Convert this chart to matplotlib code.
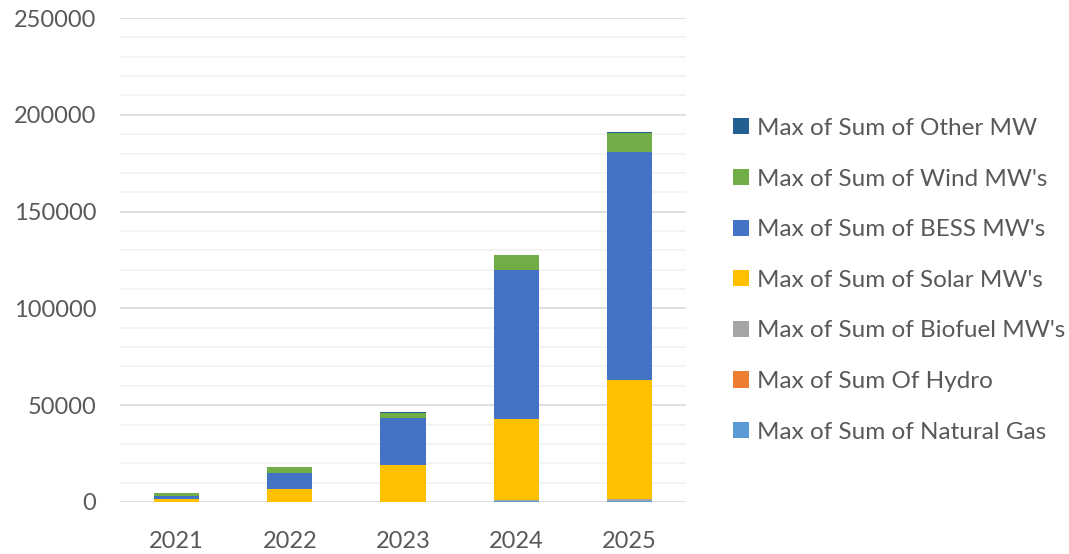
import numpy as np
import matplotlib as mpl
import matplotlib.pyplot as plt
from matplotlib.ticker import MultipleLocator

mpl.rc('font', family=['Lato', 'DejaVu Sans'])

years = ['2021', '2022', '2023', '2024', '2025']

# MW by source, stacked bottom to top
natural_gas = [0, 0, 0, 300, 500]
hydro = [0, 0, 0, 0, 0]
biofuel = [0, 0, 100, 500, 1200]
solar = [1400, 6900, 19100, 42100, 61300]
bess = [1600, 8200, 24300, 77100, 117800]
wind = [1600, 2900, 2700, 7600, 9700]
other = [100, 100, 100, 200, 800]

series = [
    ("Max of Sum of Natural Gas", natural_gas, '#5B9BD5'),
    ("Max of Sum Of Hydro", hydro, '#ED7D31'),
    ("Max of Sum of Biofuel MW's", biofuel, '#A5A5A5'),
    ("Max of Sum of Solar MW's", solar, '#FFC000'),
    ("Max of Sum of BESS MW's", bess, '#4472C4'),
    ("Max of Sum of Wind MW's", wind, '#70AD47'),
    ("Max of Sum of Other MW", other, '#255E91'),
]

fig = plt.figure(figsize=(10.69, 5.54), dpi=100)
ax = fig.add_axes([0.1123, 0.0939, 0.5294, 0.8736])

x = np.arange(len(years))
bottom = np.zeros(len(years))
handles = []
for label, vals, colour in series:
    vals = np.array(vals, dtype=float)
    h = ax.bar(x, vals, width=0.4, bottom=bottom, color=colour, label=label, zorder=3)
    handles.append(h)
    bottom += vals

ax.set_xlim(-0.5, len(years) - 0.5)
ax.set_ylim(0, 250000)
ax.yaxis.set_major_locator(MultipleLocator(50000))
ax.yaxis.set_minor_locator(MultipleLocator(10000))
ax.grid(which='major', axis='y', color='#D9D9D9', linewidth=1.2, zorder=0)
ax.grid(which='minor', axis='y', color='#F2F2F2', linewidth=1.2, zorder=0)
ax.set_axisbelow(True)

ax.set_xticks(x)
ax.set_xticklabels(years)
for s in ax.spines.values():
    s.set_visible(False)
ax.tick_params(axis='both', which='both', length=0, labelsize=17, colors='#595959')
ax.tick_params(axis='y', pad=17)
ax.tick_params(axis='x', pad=21)

fig.legend(handles[::-1], [s[0] for s in series][::-1], loc='center left',
           bbox_to_anchor=(0.665, 0.494), frameon=False, fontsize=17.5,
           labelcolor='#595959', handlelength=0.65, handleheight=0.65,
           handletextpad=0.35, labelspacing=1.22)

fig.savefig('out.png', dpi=100)
